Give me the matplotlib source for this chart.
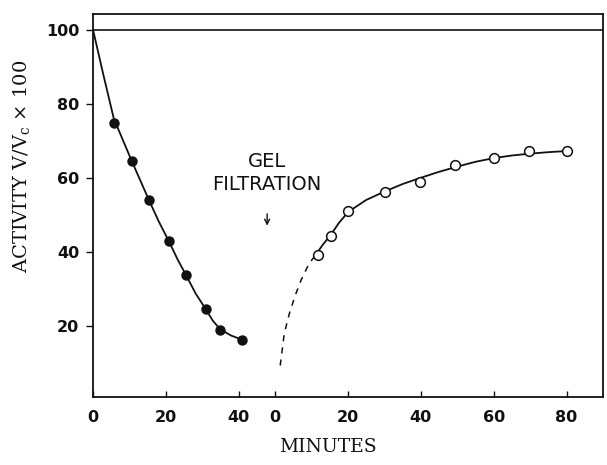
import matplotlib
matplotlib.use("Agg")
import matplotlib.pyplot as plt

plt.rcParams["mathtext.fontset"] = "dejavuserif"

# ---- data (minutes, activity) ----
before_t = [5.7, 10.6, 15.3, 20.8, 25.6, 30.9, 34.9, 40.9]
before_y = [74.8, 64.5, 54.1, 42.9, 33.8, 24.5, 18.8, 16.3]

after_t = [11.8, 15.3, 20.1, 30.1, 39.8, 49.3, 60.2, 69.8, 80.0]
after_y = [39.2, 44.2, 51.0, 56.2, 58.9, 63.4, 65.4, 67.2, 67.2]

before_curve_t = [0, 2.8, 5.7, 10.6, 15.3, 18, 20.8, 23.2, 25.6, 28.2, 30.9, 32.9, 34.9, 37.9, 40.9]
before_curve_y = [100, 88, 76, 64.6, 54.1, 48.3, 42.9, 38.0, 33.6, 28.7, 24.6, 21.4, 19.1, 17.4, 16.3]

after_dash_t = [1.4, 2.5, 3.9, 5.5, 7.1, 9.3, 11.0]
after_dash_y = [9.3, 17.9, 23.3, 28.2, 32.3, 36.8, 39.0]

after_curve_t = [11.0, 13, 15.3, 17.5, 20.1, 25, 30.1, 35, 40, 45, 50, 55, 60, 65, 70, 75, 80]
after_curve_y = [39.0, 41.8, 44.6, 47.8, 50.8, 54.0, 56.3, 58.3, 60.0, 61.6, 63.0, 64.3, 65.3, 66.0, 66.5, 66.9, 67.2]

control_level = 100

xtick_labels = ["0", "20", "40", "0", "20", "40", "60", "80"]
before_ticks = [0, 20, 40]
after_ticks = [0, 20, 40, 60, 80]
after_offset = 50  # second time axis begins at position 50

ink = "#111111"

fig = plt.figure(figsize=(6.07, 4.65), dpi=100)
ax = fig.add_axes([0.1532, 0.1462, 0.8402, 0.8237])

ax.set_xlim(0, 140)
ax.set_ylim(0.8, 104.2)

ax.axhline(control_level, color=ink, lw=1.2)

ax.plot(before_curve_t, before_curve_y, color=ink, lw=1.3, zorder=2)
ax.plot(before_t, before_y, "o", color=ink, ms=6.5, zorder=3)

ax.plot([t + after_offset for t in after_dash_t], after_dash_y, color=ink,
        lw=1.1, ls=(0, (4, 4)), zorder=2)
ax.plot([t + after_offset for t in after_curve_t], after_curve_y, color=ink,
        lw=1.3, zorder=2)
ax.plot([t + after_offset for t in after_t], after_y, "o", mfc="white",
        mec=ink, mew=1.1, ms=7, zorder=3)

ticks = before_ticks + [t + after_offset for t in after_ticks]
ax.set_xticks(ticks)
ax.set_xticklabels(xtick_labels)
ax.set_yticks([20, 40, 60, 80, 100])

for lab in ax.get_xticklabels() + ax.get_yticklabels():
    lab.set_fontfamily("DejaVu Sans")
    lab.set_fontweight("bold")
    lab.set_fontsize(11.5)
    lab.set_color(ink)

ax.tick_params(axis="x", direction="in", length=4, width=1, pad=9, colors=ink)
ax.tick_params(axis="y", direction="out", length=5, width=1, pad=5, colors=ink)

for s in ax.spines.values():
    s.set_color(ink)
    s.set_linewidth(1.3)

ax.text(47.8, 64.3, "GEL", ha="center", va="center", fontsize=14,
        family="DejaVu Sans", color=ink)
ax.text(47.8, 58.2, "FILTRATION", ha="center", va="center", fontsize=14,
        family="DejaVu Sans", color=ink)
ax.annotate("", xy=(47.8, 46.3), xytext=(47.8, 51.0),
            arrowprops=dict(arrowstyle="->", color=ink, lw=1.0,
                            mutation_scale=9))

fig.text(21.7 / 607, 1 - 166 / 465, r"ACTIVITY V/V$_\mathrm{c}$ $\times$ 100",
         rotation=90, ha="center", va="center", fontsize=14,
         family="DejaVu Serif", color=ink)
fig.text(327.5 / 607, 1 - 447 / 465, "MINUTES", ha="center", va="center",
         fontsize=13.5, family="DejaVu Serif", color=ink)

fig.savefig("out.png", dpi=100, facecolor="white")
